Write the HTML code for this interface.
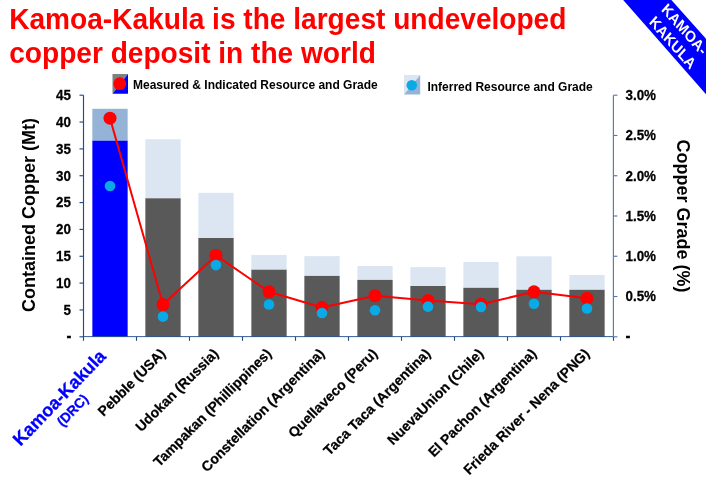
<!DOCTYPE html>
<html><head><meta charset="utf-8"><title>Kamoa-Kakula</title>
<style>
html,body{margin:0;padding:0;background:#fff;}
body{width:706px;height:481px;overflow:hidden;position:relative;font-family:"Liberation Sans",Arial,sans-serif;}
svg{position:absolute;left:0;top:0;}
svg text{font-family:"Liberation Sans",Arial,sans-serif;font-weight:bold;}
</style></head><body>
<svg width="706" height="481" viewBox="0 0 706 481">

<g fill="#ff0000" font-size="28.1"><text transform="translate(9.2,29.0) scale(1,1.05)">Kamoa-Kakula is the largest undeveloped</text><text transform="translate(9.2,63.1) scale(1,1.05)">copper deposit in the world</text></g>
<polygon points="623.2,0 671.4,0 706,38.7 706,94.2" fill="#0000ff"/>
<g transform="scale(1,1.13) translate(678.5,31.9) rotate(45)" fill="#fff" font-size="14" text-anchor="middle"><text x="0" y="-3.6">KAMOA-</text><text x="0" y="13">KAKULA</text></g>
<rect x="92.35" y="108.8" width="35.3" height="31.90" fill="#95b3d7"/>
<rect x="92.35" y="140.7" width="35.3" height="196.10" fill="#0000ff"/>
<rect x="145.35" y="139.2" width="35.3" height="59.10" fill="#dce6f2"/>
<rect x="145.35" y="198.3" width="35.3" height="138.50" fill="#595959"/>
<rect x="198.35" y="192.8" width="35.3" height="45.20" fill="#dce6f2"/>
<rect x="198.35" y="238.0" width="35.3" height="98.80" fill="#595959"/>
<rect x="251.35" y="254.9" width="35.3" height="14.80" fill="#dce6f2"/>
<rect x="251.35" y="269.7" width="35.3" height="67.10" fill="#595959"/>
<rect x="304.35" y="256.1" width="35.3" height="19.80" fill="#dce6f2"/>
<rect x="304.35" y="275.9" width="35.3" height="60.90" fill="#595959"/>
<rect x="357.35" y="266.0" width="35.3" height="13.90" fill="#dce6f2"/>
<rect x="357.35" y="279.9" width="35.3" height="56.90" fill="#595959"/>
<rect x="410.35" y="267.1" width="35.3" height="18.90" fill="#dce6f2"/>
<rect x="410.35" y="286.0" width="35.3" height="50.80" fill="#595959"/>
<rect x="463.35" y="262.0" width="35.3" height="25.80" fill="#dce6f2"/>
<rect x="463.35" y="287.8" width="35.3" height="49.00" fill="#595959"/>
<rect x="516.35" y="256.3" width="35.3" height="33.50" fill="#dce6f2"/>
<rect x="516.35" y="289.8" width="35.3" height="47.00" fill="#595959"/>
<rect x="569.35" y="275.0" width="35.3" height="14.80" fill="#dce6f2"/>
<rect x="569.35" y="289.8" width="35.3" height="47.00" fill="#595959"/>
<g stroke="#224c89" stroke-width="1.15" fill="none">
<path d="M83.5,95.2 V337.1"/>
<path d="M83.5,336.6 H613.4" stroke-width="0.9"/>
<path d="M79.5,336.80 H83.5"/>
<path d="M79.5,309.96 H83.5"/>
<path d="M79.5,283.11 H83.5"/>
<path d="M79.5,256.27 H83.5"/>
<path d="M79.5,229.42 H83.5"/>
<path d="M79.5,202.58 H83.5"/>
<path d="M79.5,175.73 H83.5"/>
<path d="M79.5,148.89 H83.5"/>
<path d="M79.5,122.04 H83.5"/>
<path d="M79.5,95.20 H83.5"/>
<path d="M83.50,336.8 V340.8"/>
<path d="M136.50,336.8 V340.8"/>
<path d="M189.50,336.8 V340.8"/>
<path d="M242.50,336.8 V340.8"/>
<path d="M295.50,336.8 V340.8"/>
<path d="M348.50,336.8 V340.8"/>
<path d="M401.50,336.8 V340.8"/>
<path d="M454.50,336.8 V340.8"/>
<path d="M507.50,336.8 V340.8"/>
<path d="M560.50,336.8 V340.8"/>
<path d="M613.50,336.8 V340.8"/>
</g>
<g stroke="#5779b0" stroke-width="1.15" fill="none">
<path d="M613.4,95.2 V336.8"/>
<path d="M613.4,336.80 H617.4"/>
<path d="M613.4,296.53 H617.4"/>
<path d="M613.4,256.27 H617.4"/>
<path d="M613.4,216.00 H617.4"/>
<path d="M613.4,175.73 H617.4"/>
<path d="M613.4,135.47 H617.4"/>
<path d="M613.4,95.20 H617.4"/>
</g>
<g font-size="13.4" fill="#000" stroke="#000" stroke-width="0.25" text-anchor="end">
<text transform="translate(71,314.86) scale(1,1.05)">5</text>
<text transform="translate(71,288.01) scale(1,1.05)">10</text>
<text transform="translate(71,261.17) scale(1,1.05)">15</text>
<text transform="translate(71,234.32) scale(1,1.05)">20</text>
<text transform="translate(71,207.48) scale(1,1.05)">25</text>
<text transform="translate(71,180.63) scale(1,1.05)">30</text>
<text transform="translate(71,153.79) scale(1,1.05)">35</text>
<text transform="translate(71,126.94) scale(1,1.05)">40</text>
<text transform="translate(71,100.10) scale(1,1.05)">45</text>
<text transform="translate(71.5,341.10) scale(1.1,1.3)">-</text>
</g>
<g font-size="13.4" fill="#000" stroke="#000" stroke-width="0.25" text-anchor="start">
<text transform="translate(625.5,341.10) scale(1.1,1.3)">-</text>
<text transform="translate(625.5,301.43) scale(1,1.05)">0.5%</text>
<text transform="translate(625.5,261.17) scale(1,1.05)">1.0%</text>
<text transform="translate(625.5,220.90) scale(1,1.05)">1.5%</text>
<text transform="translate(625.5,180.63) scale(1,1.05)">2.0%</text>
<text transform="translate(625.5,140.37) scale(1,1.05)">2.5%</text>
<text transform="translate(625.5,100.10) scale(1,1.05)">3.0%</text>
</g>
<text transform="translate(35.2,215) rotate(-90) scale(1,1.05)" font-size="18" text-anchor="middle" fill="#000">Contained Copper (Mt)</text>
<text transform="translate(676.6,216) rotate(90) scale(1,1.05)" font-size="18" text-anchor="middle" fill="#000">Copper Grade (%)</text>
<polyline points="110.00,118.2 163.00,304.6 216.00,255.4 269.00,291.8 322.00,307.5 375.00,295.7 428.00,300.5 481.00,304.2 534.00,291.8 587.00,298.3" fill="none" stroke="#ff0000" stroke-width="2.0" stroke-linejoin="round"/>
<circle cx="110.00" cy="118.2" r="6.5" fill="#ff0000"/>
<circle cx="163.00" cy="304.6" r="6.5" fill="#ff0000"/>
<circle cx="216.00" cy="255.4" r="6.5" fill="#ff0000"/>
<circle cx="269.00" cy="291.8" r="6.5" fill="#ff0000"/>
<circle cx="322.00" cy="307.5" r="6.5" fill="#ff0000"/>
<circle cx="375.00" cy="295.7" r="6.5" fill="#ff0000"/>
<circle cx="428.00" cy="300.5" r="6.5" fill="#ff0000"/>
<circle cx="481.00" cy="304.2" r="6.5" fill="#ff0000"/>
<circle cx="534.00" cy="291.8" r="6.5" fill="#ff0000"/>
<circle cx="587.00" cy="298.3" r="6.5" fill="#ff0000"/>
<circle cx="110.00" cy="186" r="5.3" fill="#0aaae6"/>
<circle cx="163.00" cy="316.6" r="5.3" fill="#0aaae6"/>
<circle cx="216.00" cy="265.1" r="5.3" fill="#0aaae6"/>
<circle cx="269.00" cy="304.5" r="5.3" fill="#0aaae6"/>
<circle cx="322.00" cy="313" r="5.3" fill="#0aaae6"/>
<circle cx="375.00" cy="310.2" r="5.3" fill="#0aaae6"/>
<circle cx="428.00" cy="306.6" r="5.3" fill="#0aaae6"/>
<circle cx="481.00" cy="307" r="5.3" fill="#0aaae6"/>
<circle cx="534.00" cy="303.7" r="5.3" fill="#0aaae6"/>
<circle cx="587.00" cy="308.5" r="5.3" fill="#0aaae6"/>
<polygon points="112.5,74 128,74 112.5,93.8" fill="#808080"/><polygon points="128,74 128,93.8 112.5,93.8" fill="#0000ff"/><circle cx="119.8" cy="83.7" r="6.4" fill="#ff0000"/>
<text x="133" y="88.7" font-size="12" fill="#000">Measured &amp; Indicated Resource and Grade</text>
<polygon points="404,75 420.2,75 404,94.6" fill="#dce6f2"/><polygon points="420.2,75 420.2,94.6 404,94.6" fill="#95b3d7"/><circle cx="411.8" cy="85.3" r="5.3" fill="#0aaae6"/>
<text x="427.4" y="90.5" font-size="12" fill="#000">Inferred Resource and Grade</text>
<g transform="translate(106.80,357.3) rotate(-46) scale(1,1.02)" fill="#0000ff" stroke="#0000ff" stroke-width="0.3" text-anchor="end"><text x="0" y="0" font-size="17.9">Kamoa-Kakula</text><text x="-42.8" y="16.5" font-size="13.5">(DRC)</text></g>
<text transform="translate(166.30,354.4) rotate(-45)" font-size="14" text-anchor="end" fill="#000" stroke="#000" stroke-width="0.25">Pebble (USA)</text>
<text transform="translate(219.30,354.4) rotate(-45)" font-size="14" text-anchor="end" fill="#000" stroke="#000" stroke-width="0.25">Udokan (Russia)</text>
<text transform="translate(272.30,354.4) rotate(-45)" font-size="14" text-anchor="end" fill="#000" stroke="#000" stroke-width="0.25">Tampakan (Phillippines)</text>
<text transform="translate(325.30,354.4) rotate(-45)" font-size="14" text-anchor="end" fill="#000" stroke="#000" stroke-width="0.25">Constellation (Argentina)</text>
<text transform="translate(378.30,354.4) rotate(-45)" font-size="14" text-anchor="end" fill="#000" stroke="#000" stroke-width="0.25">Quellaveco (Peru)</text>
<text transform="translate(431.30,354.4) rotate(-45)" font-size="14" text-anchor="end" fill="#000" stroke="#000" stroke-width="0.25">Taca Taca (Argentina)</text>
<text transform="translate(484.30,354.4) rotate(-45)" font-size="14" text-anchor="end" fill="#000" stroke="#000" stroke-width="0.25">NuevaUnion (Chile)</text>
<text transform="translate(537.30,354.4) rotate(-45)" font-size="14" text-anchor="end" fill="#000" stroke="#000" stroke-width="0.25">El Pachon (Argentina)</text>
<text transform="translate(590.30,354.4) rotate(-45)" font-size="14" text-anchor="end" fill="#000" stroke="#000" stroke-width="0.25">Frieda River - Nena (PNG)</text>
</svg></body></html>
